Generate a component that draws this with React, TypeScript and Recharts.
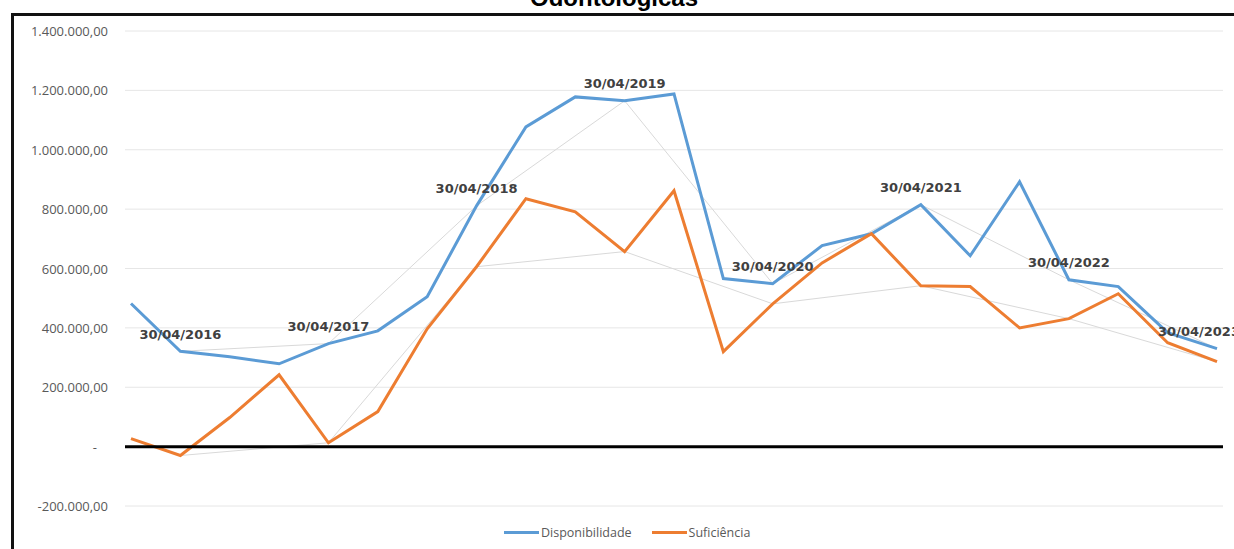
import React from 'react';
import { LineChart, Line, XAxis, YAxis, CartesianGrid, ReferenceLine, LabelList } from 'recharts';

const datas = [
  '31/12/2015', '30/04/2016', '31/08/2016', '31/12/2016', '30/04/2017', '31/08/2017',
  '31/12/2017', '30/04/2018', '31/08/2018', '31/12/2018', '30/04/2019', '31/08/2019',
  '31/12/2019', '30/04/2020', '31/08/2020', '31/12/2020', '30/04/2021', '31/08/2021',
  '31/12/2021', '30/04/2022', '31/08/2022', '31/12/2022', '30/04/2023',
];

const disponibilidade = [
  482000, 321000, 303000, 279000, 347000, 390000, 505000, 811000, 1077000, 1178000, 1165000, 1188000,
  566000, 549000, 677000, 717000, 815000, 643000, 892000, 562000, 539000, 384000, 330000,
];

const suficiencia = [
  27000, -30000, 98000, 242000, 13000, 118000, 397000, 606000, 835000, 791000, 657000, 862000,
  320000, 481000, 619000, 717000, 542000, 539000, 400000, 431000, 515000, 350000, 286000,
];

const yTicks = [-200000, 0, 200000, 400000, 600000, 800000, 1000000, 1200000, 1400000];

const BLUE = '#5b9bd5';
const ORANGE = '#ed7d31';
const GREY = '#d9d9d9';

// only the april closings get the annual grey lines and the date label
const isAbril = (d: string) => d.startsWith('30/04');

const data = datas.map((d, i) => ({
  data: d,
  disponibilidade: disponibilidade[i],
  suficiencia: suficiencia[i],
  dispAnual: isAbril(d) ? disponibilidade[i] : null,
  sufAnual: isAbril(d) ? suficiencia[i] : null,
  rotulo: isAbril(d) ? d : null,
}));

const fmt = (v: number) => {
  const neg = v < 0;
  const int = Math.abs(Math.round(v)).toString().replace(/\B(?=(\d{3})+(?!\d))/g, '.');
  return (neg ? '-' : '') + int + ',00';
};

const YTick = (props: any) => {
  const { x, y, payload } = props;
  const zero = payload.value === 0;
  return (
    <text
      x={zero ? x - 11 : x}
      y={y}
      textAnchor="end"
      dominantBaseline="central"
      fontSize={13}
      fontFamily="'Open Sans', sans-serif"
      fill="#595959"
    >
      {zero ? '-' : fmt(payload.value)}
    </text>
  );
};

const DateLabel = (props: any) => {
  const { x, y, value, index } = props;
  if (!value) return null;
  const last = index === datas.length - 1;
  return (
    <text
      x={last ? x - 18 : x}
      y={y - 17}
      textAnchor="middle"
      dominantBaseline="central"
      fontSize={13}
      fontWeight="bold"
      fontFamily="'DejaVu Sans', sans-serif"
      fill="#404040"
    >
      {value}
    </text>
  );
};

const legendItems = [
  { nome: 'Disponibilidade', cor: BLUE },
  { nome: 'Suficiência', cor: ORANGE },
];

export default function App() {
  return (
    <div style={{ position: 'absolute', left: 0, top: 0, width: 1234, height: 549, overflow: 'hidden', background: '#fff' }}>
      <div
        style={{
          position: 'absolute', left: 0, top: -14, width: 1228, textAlign: 'center',
          fontFamily: "'Liberation Sans', Arial, sans-serif", fontWeight: 'bold', fontSize: 24, lineHeight: '24px', color: '#000',
        }}
      >
        Odontológicas
      </div>
      <div
        style={{
          position: 'absolute', left: 11, top: 13, width: 1240, height: 560,
          borderTop: '3px solid #111', borderLeft: '3px solid #111',
        }}
      />
      <div style={{ position: 'absolute', left: 0, top: 0 }}>
        <LineChart width={1234} height={549} data={data} margin={{ top: 31, right: 11, bottom: 43, left: 0 }}>
          <CartesianGrid horizontal vertical={false} stroke="#e6e6e6" />
          <XAxis dataKey="data" hide padding={{ left: 6, right: 6 }} />
          <YAxis
            width={125}
            domain={[-200000, 1400000]}
            ticks={yTicks}
            axisLine={false}
            tickLine={false}
            tickMargin={11}
            tick={<YTick />}
            interval={0}
          />
          <Line dataKey="sufAnual" stroke={GREY} strokeWidth={1} dot={false} connectNulls isAnimationActive={false} />
          <Line dataKey="dispAnual" stroke={GREY} strokeWidth={1} dot={false} connectNulls isAnimationActive={false}>
            <LabelList dataKey="rotulo" content={<DateLabel />} />
          </Line>
          <Line dataKey="disponibilidade" stroke={BLUE} strokeWidth={3} dot={false} isAnimationActive={false} />
          <Line dataKey="suficiencia" stroke={ORANGE} strokeWidth={3} dot={false} isAnimationActive={false} />
          <ReferenceLine y={0} stroke="#000" strokeWidth={3} />
        </LineChart>
      </div>
      <div
        style={{
          position: 'absolute', left: 504, top: 524, display: 'flex', alignItems: 'center',
          fontFamily: "'Open Sans', sans-serif", fontSize: 12.5, color: '#595959', whiteSpace: 'nowrap',
        }}
      >
        {legendItems.map((it, i) => (
          <div key={it.nome} style={{ display: 'flex', alignItems: 'center', marginRight: i === 0 ? 20 : 0 }}>
            <span style={{ display: 'inline-block', width: 35, height: 3, background: it.cor, marginRight: 2 }} />
            <span>{it.nome}</span>
          </div>
        ))}
      </div>
    </div>
  );
}
